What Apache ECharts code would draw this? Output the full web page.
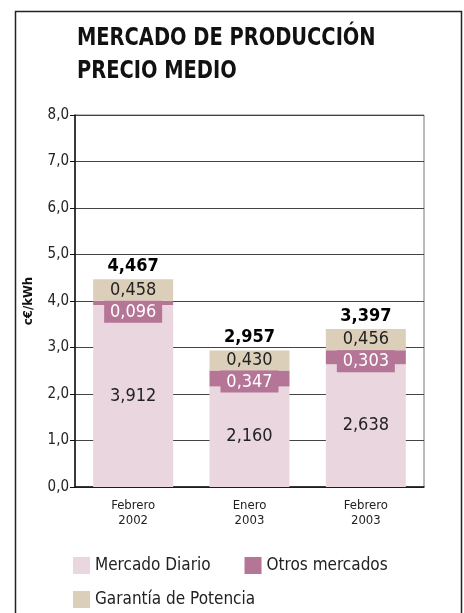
<!DOCTYPE html>
<html><head><meta charset="utf-8">
<script src="https://cdn.jsdelivr.net/npm/echarts@6/dist/echarts.min.js"></script>
<style>html,body{margin:0;padding:0;background:#fff}#c{width:464px;height:613px}</style>
</head><body><div id="c"></div>
<script>
const categories = ['Febrero\n2002', 'Enero\n2003', 'Febrero\n2003'];
const mercadoDiario = [3.912, 2.160, 2.638];
const otrosMercados = [0.096, 0.347, 0.303];
const garantiaPotencia = [0.458, 0.430, 0.456];
const totals = [4.467, 2.957, 3.397];
const yTicks = [0, 1, 2, 3, 4, 5, 6, 7, 8];
const titleLines = ['MERCADO DE PRODUCCIÓN', 'PRECIO MEDIO'];

const FONT = '"DejaVu Sans Condensed", "Liberation Sans", sans-serif';
const fmt3 = v => v.toFixed(3).replace('.', ',');
const C1 = '#ead6df', C2 = '#b57596', C3 = '#dccfba';

const chart = echarts.init(document.getElementById('c'), null, {renderer: 'canvas'});
chart.setOption({
  animation: false,
  textStyle: {fontFamily: FONT},
  graphic: [{
    type: 'rect', shape: {x: 15.5, y: 11.5, width: 446, height: 620},
    style: {fill: 'none', stroke: '#222', lineWidth: 1.5}, silent: true
  }].concat(titleLines.map((t, i) => ({
    type: 'text', x: 77, y: 27 + i * 33, scaleX: 0.9, silent: true,
    style: {text: t, fontFamily: FONT, fontWeight: 'bold', fontSize: 24, fill: '#111'}
  }))),
  legend: [{
    data: ['Mercado Diario', 'Otros mercados'],
    left: 68, top: 552, icon: 'rect', itemWidth: 17, itemHeight: 17, itemGap: 34,
    textStyle: {fontFamily: FONT, fontSize: 17, color: '#222'}
  }, {
    data: ['Garantía de Potencia'],
    left: 68, top: 586, icon: 'rect', itemWidth: 17, itemHeight: 17,
    textStyle: {fontFamily: FONT, fontSize: 17, color: '#222'}
  }],
  grid: {left: 75, right: 40, top: 115, bottom: 126, show: true, borderColor: '#777', borderWidth: 1},
  xAxis: {
    type: 'category', data: categories,
    axisLine: {lineStyle: {color: '#111', width: 1.5}},
    axisTick: {show: false},
    axisLabel: {fontFamily: FONT, fontSize: 13, lineHeight: 15, color: '#222', margin: 11}
  },
  yAxis: {
    type: 'value', min: yTicks[0], max: yTicks[yTicks.length - 1], interval: 1,
    name: 'c€/kWh', nameLocation: 'middle', nameRotate: 90, nameGap: 40,
    nameTextStyle: {fontFamily: FONT, fontWeight: 'bold', fontSize: 13, color: '#111'},
    axisLine: {show: true, lineStyle: {color: '#111', width: 1.5}},
    axisTick: {show: true, length: 5, lineStyle: {color: '#111'}},
    axisLabel: {fontFamily: FONT, fontSize: 15, color: '#222', margin: 6,
      formatter: v => v.toFixed(1).replace('.', ',')},
    splitLine: {lineStyle: {color: '#444', width: 1}}
  },
  series: [{
    name: 'Mercado Diario', type: 'bar', stack: 's', barWidth: 80, data: mercadoDiario,
    itemStyle: {color: C1},
    label: {show: true, position: 'inside', fontFamily: FONT, fontSize: 18, color: '#222',
      formatter: p => fmt3(p.value)}
  }, {
    name: 'Otros mercados', type: 'bar', stack: 's', data: otrosMercados,
    itemStyle: {color: C2},
    label: {show: true, position: 'insideTop', distance: 0, fontFamily: FONT, fontSize: 18,
      color: '#fff', backgroundColor: C2, width: 50, align: 'center', lineHeight: 21,
      padding: [1, 4, 0, 4], formatter: p => fmt3(p.value)}
  }, {
    name: 'Garantía de Potencia', type: 'bar', stack: 's', data: garantiaPotencia,
    itemStyle: {color: C3},
    label: {show: true, position: 'inside', fontFamily: FONT, fontSize: 18, color: '#222',
      formatter: p => fmt3(p.value)}
  }, {
    name: 'Total', type: 'scatter', data: totals, symbol: 'rect', symbolSize: 1,
    itemStyle: {color: 'rgba(0,0,0,0)', opacity: 1}, silent: true, z: 5,
    label: {show: true, position: 'top', distance: 3, fontFamily: FONT, fontWeight: 'bold',
      fontSize: 18, color: '#000', opacity: 1,
      formatter: p => fmt3(Array.isArray(p.value) ? p.value[1] : p.value)}
  }]
});
</script></body></html>
